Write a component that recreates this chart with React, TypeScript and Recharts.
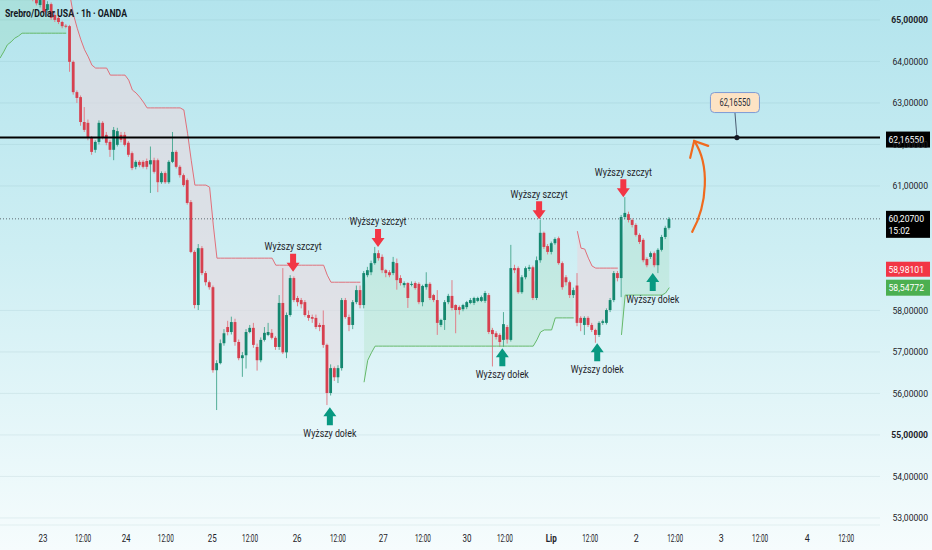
import React from 'react';
import {
  ComposedChart, Bar, Line, Area, XAxis, YAxis, CartesianGrid,
  ReferenceLine, ReferenceDot,
} from 'recharts';

// ---- candle data (hourly bars, index = bar number) ----
const opens = [
  65.80, 65.90, 65.85, 65.95, 66.00, 65.92, 65.85, 65.78, 65.70, 65.62,
  65.55, 65.36, 65.55, 65.24, 65.38, 65.12, 65.05, 64.95, 64.86, 64.85,
  63.99, 63.26, 63.14, 62.54, 62.52, 62.18, 61.87, 62.06, 62.52, 62.23,
  62.06, 61.87, 61.99, 62.23, 62.23, 62.04, 61.79, 61.46, 61.58, 61.58,
  61.60, 61.52, 61.62, 61.62, 61.09, 61.31, 61.09, 61.58, 61.82, 61.46,
  61.26, 61.14, 60.61, 59.41, 58.13, 59.50, 58.90, 58.68, 58.56, 56.56,
  56.73, 57.21, 57.60, 57.48, 57.72, 57.24, 56.85, 56.92, 57.48, 57.58,
  57.12, 56.80, 57.29, 57.41, 57.46, 57.34, 57.12, 58.18, 56.99, 57.89,
  58.78, 58.30, 58.25, 58.20, 57.89, 57.84, 57.82, 57.65, 57.65, 57.17,
  56.01, 56.61, 56.39, 56.61, 58.25, 57.84, 57.65, 58.20, 58.49, 58.13,
  58.85, 58.92, 59.14, 59.38, 59.29, 58.97, 58.92, 58.90, 59.14, 58.78,
  58.61, 58.66, 58.62, 58.66, 58.64, 58.20, 58.56, 58.64, 58.37, 58.25,
  57.65, 57.77, 58.20, 58.35, 58.13, 58.08, 58.03, 58.08, 58.18, 58.18,
  58.23, 58.23, 58.23, 58.37, 57.53, 57.45, 57.41, 57.29, 57.60, 57.29,
  59.02, 59.02, 58.44, 58.80, 59.00, 59.04, 58.30, 59.21, 59.87, 59.55,
  59.41, 59.62, 59.74, 59.14, 58.80, 58.68, 58.37, 58.60, 57.82, 57.65,
  57.82, 57.65, 57.53, 57.41, 57.70, 57.70, 58.01, 58.25, 58.90, 58.78,
  60.25, 60.32, 60.18, 60.06, 59.82, 59.70, 59.24, 59.29, 59.38, 59.09,
  59.46, 59.77, 59.99,
];
const highs = [
  65.95, 66.05, 66.00, 66.10, 66.15, 66.05, 65.95, 65.90, 65.82, 65.75,
  65.70, 65.70, 65.65, 65.45, 65.42, 65.20, 65.10, 64.98, 64.90, 64.88,
  64.02, 63.30, 63.18, 62.90, 62.60, 62.20, 62.10, 62.58, 62.56, 62.30,
  62.10, 62.42, 62.40, 62.30, 62.30, 62.08, 61.83, 61.62, 61.62, 61.62,
  61.66, 61.95, 61.68, 61.66, 61.35, 61.35, 61.62, 62.30, 61.86, 61.50,
  61.30, 61.18, 60.66, 59.45, 59.60, 59.55, 58.95, 58.72, 58.60, 56.80,
  57.30, 57.55, 57.75, 57.85, 57.80, 57.30, 57.00, 57.55, 57.65, 57.70,
  57.20, 57.35, 57.60, 57.70, 57.55, 57.38, 58.37, 59.02, 57.95, 58.85,
  58.82, 58.35, 58.30, 58.25, 58.00, 57.90, 57.90, 57.70, 58.00, 57.20,
  56.70, 56.65, 56.68, 58.30, 58.30, 57.90, 58.25, 58.60, 58.60, 58.95,
  59.05, 59.20, 59.53, 59.45, 59.35, 59.00, 58.97, 59.29, 59.25, 58.85,
  58.70, 58.68, 58.70, 58.70, 58.68, 58.62, 58.92, 58.68, 58.40, 58.49,
  57.80, 58.25, 58.40, 58.73, 58.15, 58.12, 58.16, 58.23, 58.30, 58.33,
  58.33, 58.36, 58.47, 58.42, 57.58, 57.50, 57.45, 57.96, 57.65, 59.58,
  59.10, 59.06, 58.85, 59.06, 59.10, 59.08, 59.30, 60.18, 59.90, 59.60,
  59.66, 59.76, 59.78, 59.18, 58.85, 58.72, 58.55, 58.90, 57.86, 57.86,
  57.86, 57.70, 57.56, 57.74, 57.78, 58.05, 58.30, 58.95, 58.95, 60.30,
  60.73, 60.38, 60.22, 60.10, 59.86, 59.74, 59.28, 59.42, 59.42, 59.50,
  59.82, 60.04, 60.25,
];
const lows = [
  65.70, 65.80, 65.75, 65.85, 65.90, 65.80, 65.70, 65.65, 65.55, 65.45,
  65.35, 65.30, 65.15, 65.20, 65.00, 64.95, 64.90, 64.80, 64.80, 63.75,
  63.20, 63.00, 62.45, 62.30, 62.10, 61.75, 61.80, 62.00, 62.12, 61.98,
  61.70, 61.62, 61.95, 62.05, 61.95, 61.70, 61.38, 61.40, 61.45, 61.42,
  61.40, 60.83, 61.30, 60.85, 61.05, 61.05, 61.05, 61.55, 61.42, 61.20,
  60.98, 60.55, 59.38, 58.05, 58.01, 58.85, 58.60, 58.50, 56.50, 55.60,
  56.70, 57.15, 57.40, 57.42, 57.15, 56.80, 56.40, 56.60, 57.45, 57.10,
  56.55, 56.75, 57.25, 57.38, 57.30, 57.05, 57.05, 56.95, 56.85, 57.85,
  58.20, 58.10, 58.05, 57.85, 57.75, 57.70, 57.55, 57.50, 57.10, 55.72,
  55.95, 56.30, 56.25, 56.55, 57.80, 57.50, 57.55, 58.15, 58.05, 58.05,
  58.80, 58.85, 59.10, 59.20, 58.90, 58.80, 58.80, 58.85, 58.50, 58.60,
  58.55, 58.06, 58.58, 58.50, 58.15, 58.10, 58.50, 58.25, 58.20, 57.41,
  57.60, 57.53, 58.15, 58.00, 57.45, 57.90, 57.98, 58.03, 58.15, 58.13,
  58.20, 58.20, 58.18, 57.43, 56.65, 57.30, 57.12, 57.12, 57.20, 57.25,
  58.90, 58.40, 58.40, 58.75, 58.95, 58.25, 58.25, 59.15, 59.48, 59.35,
  59.35, 59.58, 59.10, 58.50, 58.60, 58.30, 58.30, 57.62, 57.50, 57.41,
  57.60, 57.48, 57.22, 57.36, 57.65, 57.66, 57.96, 58.20, 58.70, 58.32,
  60.20, 60.12, 60.00, 59.78, 59.60, 59.16, 59.04, 59.24, 59.04, 58.90,
  59.42, 59.72, 59.95,
];
const closes = [
  65.90, 65.85, 65.95, 66.00, 65.92, 65.85, 65.78, 65.70, 65.62, 65.55,
  65.40, 65.60, 65.19, 65.38, 65.05, 65.00, 64.95, 64.85, 64.84, 63.99,
  63.26, 63.12, 62.54, 62.35, 62.18, 61.82, 62.06, 62.52, 62.18, 62.04,
  61.87, 62.35, 62.32, 62.11, 61.99, 61.75, 61.43, 61.58, 61.50, 61.46,
  61.46, 61.62, 61.34, 61.09, 61.31, 61.09, 61.58, 61.82, 61.46, 61.26,
  61.02, 60.59, 59.41, 58.13, 59.50, 58.90, 58.68, 58.56, 56.56, 56.73,
  57.21, 57.45, 57.48, 57.72, 57.24, 56.85, 56.92, 57.48, 57.58, 57.17,
  56.80, 57.29, 57.46, 57.48, 57.34, 57.12, 58.18, 56.99, 57.89, 58.78,
  58.25, 58.20, 58.15, 57.89, 57.82, 57.80, 57.60, 57.60, 57.17, 56.01,
  56.61, 56.39, 56.61, 58.25, 57.84, 57.65, 58.20, 58.49, 58.13, 58.90,
  58.97, 59.14, 59.38, 59.26, 58.97, 58.90, 58.85, 59.17, 58.73, 58.66,
  58.66, 58.30, 58.64, 58.54, 58.20, 58.59, 58.64, 58.30, 58.25, 57.70,
  57.77, 58.20, 58.35, 58.06, 58.01, 58.01, 58.13, 58.20, 58.25, 58.30,
  58.30, 58.32, 58.42, 57.48, 57.43, 57.36, 57.24, 57.67, 57.30, 59.02,
  58.97, 58.44, 58.80, 59.02, 59.04, 58.30, 59.21, 59.87, 59.53, 59.41,
  59.62, 59.72, 59.14, 58.56, 58.68, 58.37, 58.49, 57.70, 57.70, 57.82,
  57.65, 57.53, 57.41, 57.70, 57.74, 58.01, 58.25, 58.90, 58.78, 60.25,
  60.35, 60.18, 60.06, 59.82, 59.65, 59.21, 59.09, 59.38, 59.09, 59.46,
  59.77, 59.99, 60.207,
];

// ---- supertrend bands (null where inactive) ----
const upperBand = [
  null, null, null, null, null, null, null, null, null, null,
  null, null, null, null, null, null, null, null, null, 65.60,
  65.12, 64.80, 64.52, 64.28, 64.11, 63.91, 63.84, 63.84, 63.84, 63.84,
  63.67, 63.67, 63.67, 63.67, 63.67, 63.55, 63.31, 63.24, 63.14, 63.02,
  62.88, 62.88, 62.88, 62.88, 62.88, 62.88, 62.88, 62.88, 62.88, 62.88,
  62.83, 62.27, 61.62, 61.02, 61.02, 61.02, 61.02, 60.97, 60.06, 59.26,
  59.26, 59.26, 59.26, 59.26, 59.26, 59.26, 59.26, 59.26, 59.26, 59.26,
  59.26, 59.26, 59.26, 59.26, 59.26, 59.09, 59.09, 59.09, 59.09, 59.09,
  59.09, 59.09, 59.09, 59.09, 59.09, 59.09, 59.09, 59.09, 59.09, 58.85,
  58.68, 58.68, 58.68, 58.68, 58.68, 58.68, 58.68, 58.68, 58.68, null,
  null, null, null, null, null, null, null, null, null, null,
  null, null, null, null, null, null, null, null, null, null,
  null, null, null, null, null, null, null, null, null, null,
  null, null, null, null, null, null, null, null, null, null,
  null, null, null, null, null, null, null, null, null, null,
  null, null, null, null, null, null, null, 59.91, 59.50, 59.48,
  59.26, 59.07, 59.02, 59.02, 59.02, 59.02, 59.02, 59.02, 59.02, null,
  null, null, null, null, null, null, null, null, null, null,
  null, null, null,
];
const lowerBand = [
  64.08, 64.23, 64.40, 64.47, 64.56, 64.61, 64.68, 64.68, 64.68, 64.68,
  64.68, 64.68, 64.68, 64.68, 64.68, 64.68, 64.68, 64.68, 64.68, null,
  null, null, null, null, null, null, null, null, null, null,
  null, null, null, null, null, null, null, null, null, null,
  null, null, null, null, null, null, null, null, null, null,
  null, null, null, null, null, null, null, null, null, null,
  null, null, null, null, null, null, null, null, null, null,
  null, null, null, null, null, null, null, null, null, null,
  null, null, null, null, null, null, null, null, null, null,
  null, null, null, null, null, null, null, null, null, 56.27,
  56.80, 56.98, 57.14, 57.14, 57.14, 57.14, 57.14, 57.14, 57.14, 57.14,
  57.14, 57.14, 57.14, 57.14, 57.14, 57.14, 57.14, 57.14, 57.14, 57.14,
  57.14, 57.14, 57.14, 57.14, 57.14, 57.14, 57.14, 57.14, 57.14, 57.14,
  57.14, 57.14, 57.14, 57.14, 57.14, 57.14, 57.14, 57.14, 57.14, 57.14,
  57.14, 57.14, 57.14, 57.14, 57.14, 57.14, 57.29, 57.48, 57.53, 57.53,
  57.53, 57.82, 57.82, 57.82, 57.82, 57.82, 57.82, null, null, null,
  null, null, null, null, null, null, null, null, null, 57.41,
  58.37, 58.37, 58.37, 58.37, 58.37, 58.37, 58.37, 58.37, 58.37, 58.37,
  58.37, 58.42, 58.55,
];

// ---- axis ticks ----
const xTickPos = [11.7, 22.6, 34.3, 45.1, 57.7, 68.0, 80.8, 91.9, 104.2, 115.0,
  127.0, 137.3, 149.9, 160.5, 173.0, 183.6, 196.1, 206.7, 219.5, 230.1];
const xTickLabels = ['23', '12:00', '24', '12:00', '25', '12:00', '26', '12:00', '27', '12:00',
  '30', '12:00', 'Lip', '12:00', '2', '12:00', '3', '12:00', '4', '12:00'];
// 59 and 60 are hidden behind the price labels in the reference
const yTicks = [53, 54, 55, 56, 57, 58, 61, 62, 63, 64, 65];
const yTickLabels = ['53,00000', '54,00000', '55,00000', '56,00000', '57,00000', '58,00000',
  '61,00000', '62,00000', '63,00000', '64,00000', '65,00000'];

// ---- annotations ----
const annIdx = [79.7, 102.8, 146.6, 169.5, 89.7, 136.6, 162.4, 177.5];
const annPrice = [58.93, 59.53, 60.20, 60.73, 55.67, 57.09, 57.21, 58.90];
const annKind = ['top', 'top', 'top', 'top', 'bottom', 'bottom', 'bottom', 'bottom'];
const annLabel = ['Wyższy szczyt', 'Wyższy szczyt', 'Wyższy szczyt', 'Wyższy szczyt',
  'Wyższy dołek', 'Wyższy dołek', 'Wyższy dołek', 'Wyższy dołek'];

const targetPrice = 62.1655;
const targetLabel = '62,16550';
const lastPrice = 60.207;
const lastLabel = '60,20700';
const countdown = '15:02';
const upperLast = 58.98101;
const upperLastLabel = '58,98101';
const lowerLast = 58.54772;
const lowerLastLabel = '58,54772';
const calloutIdx = 200.4;
const arrowIdx = 188.5;
const arrowPrice = 62.11;

const X_MAX = 239.3;
const Y_MIN = 52.83;
const Y_MAX = 65.48;

const rows = opens.map((o, i) => ({
  i,
  o,
  h: highs[i],
  l: lows[i],
  c: closes[i],
  mid: (o + closes[i]) / 2,
  up: upperBand[i],
  dn: lowerBand[i],
}));

const FONT = 'Roboto, "Noto Sans", sans-serif';

const Candle = (props: any) => {
  const { x, y, width, height, payload } = props;
  if (payload == null || y == null || height == null) return null;
  const { o, h, l, c } = payload;
  const k = h - l > 0 ? height / (h - l) : 0;
  const py = (v: number) => y + (h - v) * k;
  const cx = x + width / 2;
  const up = c >= o;
  const body = up ? '#14876f' : '#d7404f';
  const wick = up ? '#52ad97' : '#e07f89';
  const top = py(Math.max(o, c));
  const bot = py(Math.min(o, c));
  return (
    <g>
      <line x1={cx} x2={cx} y1={y} y2={y + height} stroke={wick} strokeWidth={1} />
      <rect x={cx - 1.4} y={top} width={2.8} height={Math.max(1, bot - top)} fill={body} />
    </g>
  );
};

const XTick = (props: any) => {
  const { x, y, payload } = props;
  const label = xTickLabels[payload.index] ?? '';
  const len = label === '12:00' ? 16 : label === 'Lip' ? 11 : label.length === 2 ? 9 : 5;
  return (
    <text x={x} y={y + 9} textAnchor="middle" fontSize={10} fontFamily={FONT}
      fill="#1e2329" fontWeight={label === 'Lip' ? 700 : 400}
      textLength={len} lengthAdjust="spacingAndGlyphs">{label}</text>
  );
};

const YTick = (props: any) => {
  const { x, y, payload } = props;
  const idx = yTicks.indexOf(payload.value);
  const label = yTickLabels[idx] ?? '';
  const bold = payload.value === 65 || payload.value === 55;
  return (
    <text x={x + 40} y={y + 3.5} textAnchor="end" fontSize={8.6} fontFamily={FONT}
      fill="#1e2329" fontWeight={bold ? 700 : 400}>{label}</text>
  );
};

const makeAnnotation = (kind: string, label: string) => (props: any) => {
  const { cx, cy } = props;
  if (cx == null || cy == null) return null;
  const len = kind === 'top' ? 57 : 53;
  if (kind === 'top') {
    const pts = [
      [cx - 3, cy - 18], [cx + 3, cy - 18], [cx + 3, cy - 9], [cx + 6.5, cy - 9],
      [cx, cy], [cx - 6.5, cy - 9], [cx - 3, cy - 9],
    ].map((p) => p.join(',')).join(' ');
    return (
      <g>
        <polygon points={pts} fill="#f23645" />
        <text x={cx} y={cy - 21.5} textAnchor="middle" fontSize={11} fontFamily={FONT}
          fill="#1e2329" textLength={len} lengthAdjust="spacingAndGlyphs">{label}</text>
      </g>
    );
  }
  const pts = [
    [cx - 3, cy + 18], [cx + 3, cy + 18], [cx + 3, cy + 9], [cx + 6.5, cy + 9],
    [cx, cy], [cx - 6.5, cy + 9], [cx - 3, cy + 9],
  ].map((p) => p.join(',')).join(' ');
  return (
    <g>
      <polygon points={pts} fill="#089981" />
      <text x={cx} y={cy + 30} textAnchor="middle" fontSize={11} fontFamily={FONT}
        fill="#1e2329" textLength={len} lengthAdjust="spacingAndGlyphs">{label}</text>
    </g>
  );
};

const Callout = (props: any) => {
  const { cx, cy } = props;
  if (cx == null || cy == null) return null;
  return (
    <g>
      <line x1={cx - 2} y1={cy - 25} x2={cx} y2={cy} stroke="#4a5c72" strokeWidth={1} />
      <rect x={cx - 26.5} y={cy - 45} width={49} height={20} rx={4} fill="#fde3c4" stroke="#7c9bd6" strokeWidth={1} />
      <text x={cx - 2} y={cy - 31.5} textAnchor="middle" fontSize={10} fontFamily={FONT}
        fill="#2a2e39" textLength={31} lengthAdjust="spacingAndGlyphs">{targetLabel}</text>
      <circle cx={cx} cy={cy} r={2.6} fill="#131722" />
    </g>
  );
};

const OrangeArrow = (props: any) => {
  const { cx, cy } = props;
  if (cx == null || cy == null) return null;
  const d = `M ${cx - 1} ${cy + 92} C ${cx + 14} ${cy + 65}, ${cx + 17} ${cy + 25}, ${cx + 1} ${cy + 1}`;
  return (
    <g fill="none" stroke="#f06a1e" strokeWidth={2.2} strokeLinecap="round">
      <path d={d} />
      <path d={`M ${cx - 3} ${cy + 18} L ${cx + 1} ${cy + 1} L ${cx + 15} ${cy + 6}`} />
    </g>
  );
};

const axisBox = (fill: string, lines: string[], topOff: number, h: number) => (props: any) => {
  const { cx, cy } = props;
  if (cx == null || cy == null) return null;
  return (
    <g>
      <rect x={cx + 6} y={cy + topOff} width={44} height={h} fill={fill} />
      {lines.map((t, k) => (
        <text key={k} x={cx + 8.5} y={cy + topOff + 11.5 + k * 12} fontSize={8.6} fontFamily={FONT}
          textAnchor="start" fill="#ffffff">{t}</text>
      ))}
    </g>
  );
};

export default function App() {
  return (
    <div style={{
      position: 'fixed', left: 0, top: 0, width: 932, height: 550,
      background: 'linear-gradient(180deg, #b3e4ed 0%, #cdeef3 45%, #f6fcfd 100%)',
    }}>
      <ComposedChart width={932} height={550} data={rows}
        margin={{ top: 0, right: 0, bottom: 0, left: 0 }}>
        <CartesianGrid vertical={false} stroke="#6f9aa5" strokeOpacity={0.13} />
        <XAxis dataKey="i" type="number" domain={[0, X_MAX]} allowDataOverflow
          ticks={xTickPos} tick={<XTick />} axisLine={false} tickLine={false} height={25}
          interval={0} />
        <YAxis orientation="right" domain={[Y_MIN, Y_MAX]} allowDataOverflow
          ticks={yTicks} tick={<YTick />} axisLine={false} tickLine={false} width={52}
          interval={0} />
        <Area dataKey={(d: any) => (d.up == null ? null : [d.mid, d.up])} type="linear"
          stroke="none" fill="#e6d9df" fillOpacity={0.62} isAnimationActive={false}
          dot={false} activeDot={false} connectNulls={false} />
        <Area dataKey={(d: any) => (d.dn == null ? null : [d.dn, d.mid])} type="linear"
          stroke="none" fill="#7fd08a" fillOpacity={0.16} isAnimationActive={false}
          dot={false} activeDot={false} connectNulls={false} />
        <Line dataKey="up" type="linear" stroke="#e0707b" strokeWidth={1} dot={false}
          activeDot={false} isAnimationActive={false} connectNulls={false} />
        <Line dataKey="dn" type="linear" stroke="#66b96b" strokeWidth={1} dot={false}
          activeDot={false} isAnimationActive={false} connectNulls={false} />
        <ReferenceLine y={lastPrice} stroke="#5d6a72" strokeDasharray="1 2" strokeWidth={1} />
        <ReferenceLine y={targetPrice} stroke="#000000" strokeWidth={2} />
        <Bar dataKey={(d: any) => [d.l, d.h]} shape={Candle} barSize={3} isAnimationActive={false} />
        {annIdx.map((xv, k) => (
          <ReferenceDot key={`a${k}`} x={xv} y={annPrice[k]} r={0} ifOverflow="visible"
            shape={makeAnnotation(annKind[k], annLabel[k])} />
        ))}
        <ReferenceDot x={calloutIdx} y={targetPrice} r={0} ifOverflow="visible" shape={Callout} />
        <ReferenceDot x={arrowIdx} y={arrowPrice} r={0} ifOverflow="visible" shape={OrangeArrow} />
        <ReferenceDot x={X_MAX} y={targetPrice} r={0} ifOverflow="visible"
          shape={axisBox('#000000', [targetLabel], -6, 16)} />
        <ReferenceDot x={X_MAX} y={lastPrice} r={0} ifOverflow="visible"
          shape={axisBox('#000000', [lastLabel, countdown], -8, 27)} />
        <ReferenceDot x={X_MAX} y={upperLast} r={0} ifOverflow="visible"
          shape={axisBox('#f23645', [upperLastLabel], -8, 15)} />
        <ReferenceDot x={X_MAX} y={lowerLast} r={0} ifOverflow="visible"
          shape={axisBox('#4caf50', [lowerLastLabel], -8, 16)} />
      </ComposedChart>
      <svg width={200} height={24} style={{ position: 'absolute', left: 0, top: 0 }}>
        <text x={5} y={17} fontSize={11.5} fontWeight={700} fontFamily={FONT} fill="#131722"
          textLength={122} lengthAdjust="spacingAndGlyphs">Srebro/Dolar USA · 1h · OANDA</text>
      </svg>
    </div>
  );
}
